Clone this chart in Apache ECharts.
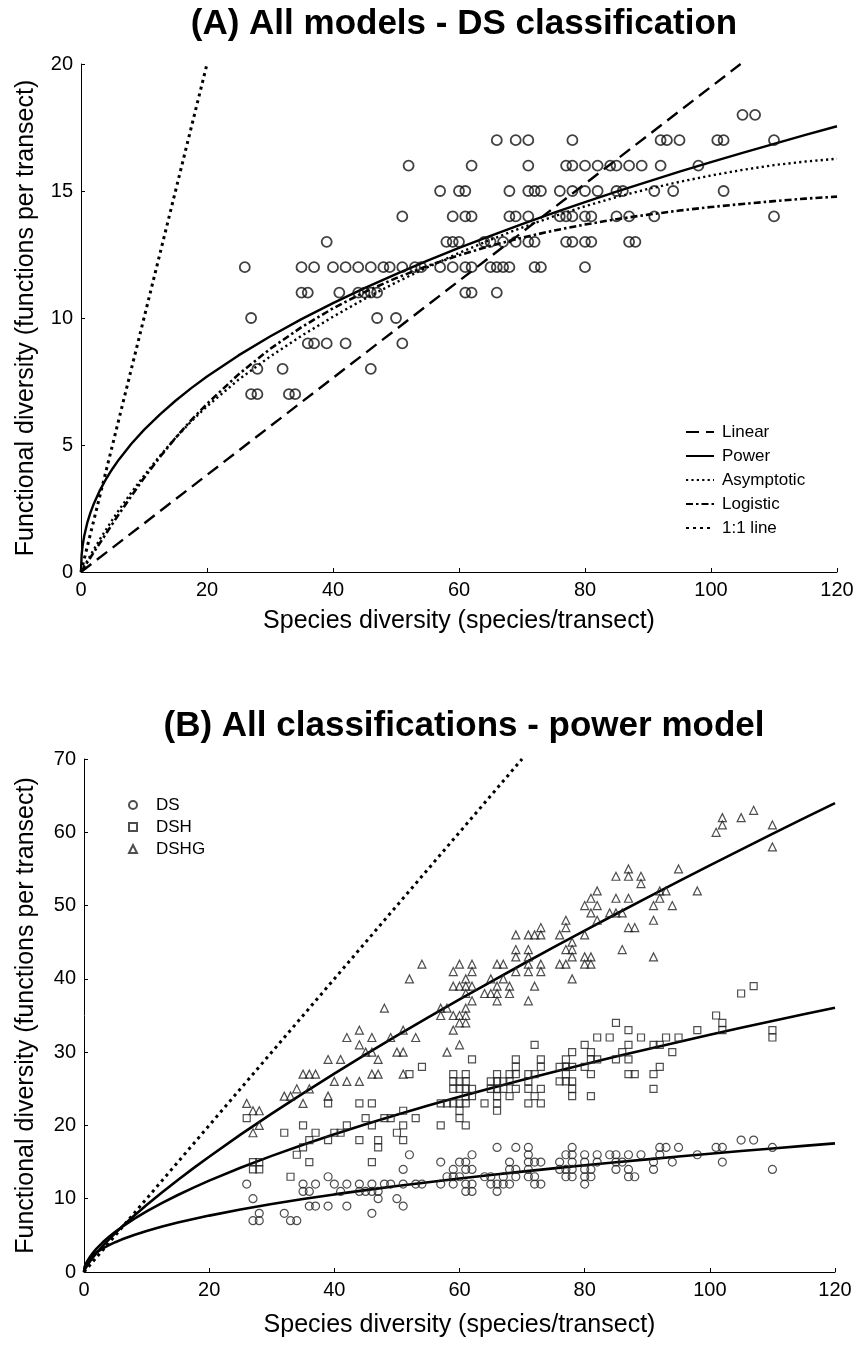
<!DOCTYPE html>
<html>
<head>
<meta charset="utf-8">
<script src="https://cdn.jsdelivr.net/npm/echarts@6/dist/echarts.min.js"></script>
<style>
  html, body { margin: 0; padding: 0; background: #fff; }
  #chart { width: 857px; height: 1345px; }
</style>
</head>
<body>
<div id="chart"></div>
<script>
// ---------- DS classification, observed points [species, functions] (used in A and B) ----------
const dsPoints = [
  [105,18],[107,18],
  [66,17],[69,17],[71,17],[78,17],[92,17],[93,17],[95,17],[101,17],[102,17],[110,17],
  [52,16],[62,16],[71,16],[77,16],[78,16],[80,16],[82,16],[84,16],[85,16],[87,16],[89,16],[92,16],[98,16],
  [57,15],[60,15],[61,15],[68,15],[71,15],[72,15],[73,15],[76,15],[78,15],[80,15],[82,15],[85,15],[86,15],[91,15],[94,15],[102,15],
  [51,14],[59,14],[61,14],[62,14],[68,14],[69,14],[71,14],[76,14],[77,14],[78,14],[80,14],[81,14],[85,14],[87,14],[91,14],[110,14],
  [39,13],[58,13],[59,13],[60,13],[64,13],[65,13],[67,13],[69,13],[71,13],[72,13],[77,13],[78,13],[80,13],[81,13],[87,13],[88,13],
  [26,12],[35,12],[37,12],[40,12],[42,12],[44,12],[46,12],[48,12],[49,12],[51,12],[53,12],[54,12],[57,12],[59,12],[61,12],[62,12],[65,12],[66,12],[67,12],[68,12],[72,12],[73,12],[80,12],
  [35,11],[36,11],[41,11],[44,11],[45,11],[46,11],[47,11],[61,11],[62,11],[66,11],
  [27,10],[47,10],[50,10],
  [36,9],[37,9],[39,9],[42,9],[51,9],
  [28,8],[32,8],[46,8],
  [27,7],[28,7],[33,7],[34,7]
];

// ---------- DSH and DSHG classifications (panel B) ----------
const dshPoints = [
  [107,39],[105,38],[101,35],[102,34],[85,34],[102,33],[87,33],[98,33],[110,33],
  [82,32],[84,32],[89,32],[93,32],[95,32],[110,32],
  [72,31],[80,31],[87,31],[91,31],[92,31],
  [78,30],[81,30],[86,30],[94,30],
  [62,29],[69,29],[73,29],[77,29],[81,29],[82,29],[85,29],[87,29],
  [54,28],[69,28],[73,28],[76,28],[77,28],[78,28],[80,28],[92,28],
  [52,27],[59,27],[61,27],[66,27],[68,27],[69,27],[71,27],[72,27],[77,27],[81,27],[87,27],[88,27],[91,27],
  [59,26],[60,26],[61,26],[65,26],[66,26],[67,26],[68,26],[71,26],[76,26],[77,26],[78,26],
  [59,25],[60,25],[61,25],[62,25],[65,25],[66,25],[67,25],[69,25],[71,25],[73,25],[78,25],[91,25],
  [61,24],[62,24],[66,24],[68,24],[72,24],[78,24],[81,24],
  [39,23],[44,23],[46,23],[57,23],[58,23],[59,23],[60,23],[61,23],[64,23],[66,23],[71,23],[73,23],
  [51,22],[60,22],[66,22],
  [26,21],[45,21],[48,21],[49,21],[53,21],[60,21],
  [35,20],[42,20],[46,20],[51,20],[57,20],[61,20],
  [32,19],[37,19],[40,19],[41,19],[50,19],
  [36,18],[39,18],[44,18],[47,18],[51,18],
  [35,17],[47,17],
  [34,16],
  [27,15],[28,15],[36,15],[46,15],
  [27,14],[28,14],
  [33,13]
];

const dshgPoints = [
  [107,63],[102,62],[105,62],[102,61],[110,61],[101,60],[110,58],
  [87,55],[95,55],[85,54],[87,54],[89,54],[89,53],
  [82,52],[92,52],[93,52],[98,52],[81,51],[85,51],[87,51],[92,51],
  [80,50],[82,50],[91,50],[94,50],[81,49],[84,49],[85,49],[86,49],
  [77,48],[82,48],[91,48],[73,47],[77,47],[87,47],[88,47],
  [69,46],[71,46],[72,46],[73,46],[76,46],[80,46],[78,45],
  [69,44],[71,44],[77,44],[78,44],[86,44],
  [69,43],[71,43],[78,43],[80,43],[81,43],[91,43],
  [54,42],[60,42],[62,42],[66,42],[67,42],[71,42],[73,42],[76,42],[77,42],[80,42],[81,42],
  [59,41],[62,41],[69,41],[71,41],[73,41],
  [52,40],[61,40],[65,40],[67,40],[78,40],
  [59,39],[60,39],[61,39],[62,39],[66,39],[68,39],[72,39],
  [61,38],[64,38],[65,38],[66,38],[68,38],
  [62,37],[66,37],[71,37],
  [48,36],[57,36],[58,36],[61,36],
  [57,35],[59,35],[60,35],[61,35],
  [60,34],[61,34],
  [44,33],[51,33],[59,33],
  [42,32],[46,32],[49,32],[53,32],
  [44,31],[60,31],
  [45,30],[46,30],[50,30],[51,30],[58,30],
  [39,29],[41,29],[47,29],
  [35,27],[36,27],[37,27],[46,27],[47,27],[51,27],
  [40,26],[42,26],[44,26],
  [34,25],[36,25],
  [32,24],[33,24],[39,24],
  [26,23],[35,23],
  [27,22],[28,22],
  [28,20],
  [27,19]
];

// ---------- Fitted model curves ----------
const curveX = [0, 0.1, 0.25, 0.5, 1, 1.5, 2, 3, 4, 5, 6, 8, 10, 12.5, 15, 17.5, 20, 25, 30, 35, 40, 45, 50, 55, 60, 65, 70, 75, 80, 85, 90, 95, 100, 105, 110, 115, 120];
const powerDS = [0, 0.673, 1.025, 1.410, 1.940, 2.338, 2.668, 3.216, 3.671, 4.067, 4.423, 5.049, 5.595, 6.199, 6.742, 7.238, 7.696, 8.528, 9.274, 9.955, 10.587, 11.176, 11.730, 12.257, 12.757, 13.235, 13.694, 14.137, 14.562, 14.974, 15.373, 15.760, 16.137, 16.502, 16.859, 17.208, 17.549];
const asymptoticDS = [0, 0.045, 0.11, 0.22, 0.44, 0.66, 0.87, 1.29, 1.68, 2.06, 2.43, 3.13, 3.79, 4.57, 5.28, 5.93, 6.52, 7.57, 8.48, 9.30, 10.05, 10.75, 11.40, 12.00, 12.56, 13.08, 13.56, 14.00, 14.40, 14.76, 15.08, 15.36, 15.61, 15.83, 16.02, 16.16, 16.27];
const logisticDS = [0, 0.038, 0.095, 0.19, 0.38, 0.57, 0.76, 1.14, 1.52, 1.90, 2.27, 2.99, 3.70, 4.52, 5.28, 5.98, 6.62, 7.78, 8.78, 9.64, 10.38, 11.02, 11.57, 12.05, 12.47, 12.84, 13.16, 13.44, 13.68, 13.89, 14.07, 14.23, 14.37, 14.49, 14.60, 14.70, 14.78];
const powerDSH = [0, 0.538, 0.927, 1.398, 2.109, 2.682, 3.181, 4.046, 4.799, 5.477, 6.103, 7.238, 8.261, 9.430, 10.508, 11.514, 12.462, 14.225, 15.848, 17.367, 18.797, 20.158, 21.455, 22.703, 23.905, 25.068, 26.196, 27.289, 28.352, 29.392, 30.405, 31.397, 32.366, 33.315, 34.248, 35.161, 36.062];
const powerDSHG = [0, 0.248, 0.509, 0.876, 1.507, 2.070, 2.593, 3.562, 4.462, 5.314, 6.129, 7.678, 9.144, 10.888, 12.559, 14.171, 15.733, 18.737, 21.613, 24.384, 27.073, 29.687, 32.241, 34.738, 37.186, 39.596, 41.960, 44.288, 46.583, 48.848, 51.084, 53.294, 55.478, 57.638, 59.775, 61.892, 63.987];
const linearX = [0, 104.7];
const linearY = [0, 20];
const oneToOneAX = [0, 20];
const oneToOneBX = [0, 70];

// ---------- Labels ----------
const titleA = '(A) All models - DS classification';
const titleB = '(B) All classifications - power model';
const xName = 'Species diversity (species/transect)';
const yName = 'Functional diversity (functions per transect)';
const legendA = ['Linear', 'Power', 'Asymptotic', 'Logistic', '1:1 line'];
const legendB = ['DS', 'DSH', 'DSHG'];

const FONT = '"Liberation Sans", Arial, sans-serif';
const zip = (xs, ys) => xs.map((x, i) => [x, ys[i]]);

function axisCommon(extra) {
  return Object.assign({
    type: 'value',
    axisLine: { show: true, lineStyle: { color: '#000', width: 1 } },
    axisTick: { show: true, inside: true, length: 4, lineStyle: { color: '#000' } },
    splitLine: { show: false },
    axisLabel: { color: '#000', fontSize: 20, fontFamily: FONT, margin: 8 },
    nameLocation: 'middle',
    nameTextStyle: { color: '#000', fontSize: 25, fontFamily: FONT }
  }, extra);
}

const chart = echarts.init(document.getElementById('chart'), null, { renderer: 'canvas' });

const noSym = { color: '#000', opacity: 0 };
const option = {
  backgroundColor: '#fff',
  animation: false,
  title: [
    { text: titleA, left: 459, top: 2, textAlign: 'center', textStyle: { fontSize: 35, fontWeight: 'bold', fontFamily: FONT, color: '#000' } },
    { text: titleB, left: 459, top: 704, textAlign: 'center', textStyle: { fontSize: 35, fontWeight: 'bold', fontFamily: FONT, color: '#000' } }
  ],
  grid: [
    { left: 81, top: 64, width: 756, height: 508 },
    { left: 84, top: 759, width: 751, height: 513 }
  ],
  xAxis: [
    axisCommon({ gridIndex: 0, min: 0, max: 120, interval: 20, name: xName, nameGap: 37 }),
    axisCommon({ gridIndex: 1, min: 0, max: 120, interval: 20, name: xName, nameGap: 41 })
  ],
  yAxis: [
    axisCommon({ gridIndex: 0, min: 0, max: 20, interval: 5, name: yName, nameGap: 42 }),
    axisCommon({ gridIndex: 1, min: 0, max: 70, interval: 10, name: yName, nameGap: 45 })
  ],
  legend: [
    {
      data: legendA, orient: 'vertical', left: 680, top: 417,
      itemWidth: 28, itemHeight: 14, itemGap: 4,
      itemStyle: { opacity: 0 },
      textStyle: { fontSize: 17, fontFamily: FONT, color: '#000', lineHeight: 20, padding: [0, 0, 0, 3] },
      selectedMode: false
    },
    {
      data: [
        { name: legendB[0], icon: 'circle' },
        { name: legendB[1], icon: 'rect' },
        { name: legendB[2], icon: 'triangle' }
      ],
      orient: 'vertical', left: 123, top: 790,
      itemWidth: 8, itemHeight: 8, itemGap: 2,
      textStyle: { fontSize: 17, fontFamily: FONT, color: '#000', lineHeight: 20, padding: [0, 0, 0, 14] },
      selectedMode: false
    }
  ],
  series: [
    // ----- Panel A -----
    { name: 'Linear', type: 'line', xAxisIndex: 0, yAxisIndex: 0, data: zip(linearX, linearY), symbol: 'none', itemStyle: noSym,
      lineStyle: { color: '#000', width: 2.4, type: [13, 7] } },
    { name: 'Power', type: 'line', xAxisIndex: 0, yAxisIndex: 0, data: zip(curveX, powerDS), symbol: 'none', itemStyle: noSym,
      lineStyle: { color: '#000', width: 2.4 } },
    { name: 'Asymptotic', type: 'line', xAxisIndex: 0, yAxisIndex: 0, data: zip(curveX, asymptoticDS), symbol: 'none', itemStyle: noSym,
      lineStyle: { color: '#000', width: 2.4, type: [2.2, 3.2] } },
    { name: 'Logistic', type: 'line', xAxisIndex: 0, yAxisIndex: 0, data: zip(curveX, logisticDS), symbol: 'none', itemStyle: noSym,
      lineStyle: { color: '#000', width: 2.6, type: [7, 3, 2.5, 3] } },
    { name: '1:1 line', type: 'line', xAxisIndex: 0, yAxisIndex: 0, data: zip(oneToOneAX, oneToOneAX), symbol: 'none', itemStyle: noSym,
      lineStyle: { color: '#000', width: 3, type: [3, 4] } },
    { name: 'DS (A)', type: 'scatter', xAxisIndex: 0, yAxisIndex: 0, data: dsPoints, symbol: 'circle', symbolSize: 10,
      itemStyle: { color: 'rgba(0,0,0,0)', borderColor: '#111', borderWidth: 1.8 }, z: 3 },
    // ----- Panel B -----
    { name: '1:1 B', type: 'line', xAxisIndex: 1, yAxisIndex: 1, data: zip(oneToOneBX, oneToOneBX), symbol: 'none',
      lineStyle: { color: '#000', width: 3, type: [3, 4] } },
    { name: 'DS', type: 'scatter', xAxisIndex: 1, yAxisIndex: 1, data: dsPoints, symbol: 'circle', symbolSize: 8,
      itemStyle: { color: 'rgba(0,0,0,0)', borderColor: '#222', borderWidth: 1.2 }, z: 3 },
    { name: 'DSH', type: 'scatter', xAxisIndex: 1, yAxisIndex: 1, data: dshPoints, symbol: 'rect', symbolSize: 7,
      itemStyle: { color: 'rgba(0,0,0,0)', borderColor: '#222', borderWidth: 1.2 }, z: 3 },
    { name: 'DSHG', type: 'scatter', xAxisIndex: 1, yAxisIndex: 1, data: dshgPoints, symbol: 'triangle', symbolSize: 8,
      itemStyle: { color: 'rgba(0,0,0,0)', borderColor: '#222', borderWidth: 1.2 }, z: 3 },
    { name: 'DS power', type: 'line', xAxisIndex: 1, yAxisIndex: 1, data: zip(curveX, powerDS), symbol: 'none',
      lineStyle: { color: '#000', width: 2.6 } },
    { name: 'DSH power', type: 'line', xAxisIndex: 1, yAxisIndex: 1, data: zip(curveX, powerDSH), symbol: 'none',
      lineStyle: { color: '#000', width: 2.6 } },
    { name: 'DSHG power', type: 'line', xAxisIndex: 1, yAxisIndex: 1, data: zip(curveX, powerDSHG), symbol: 'none',
      lineStyle: { color: '#000', width: 2.6 } }
  ]
};
chart.setOption(option);
</script>
</body>
</html>
